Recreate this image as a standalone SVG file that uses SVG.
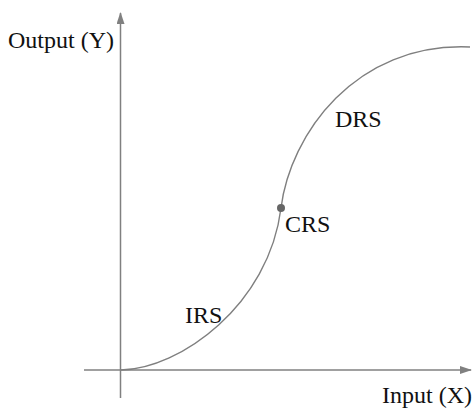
<svg xmlns="http://www.w3.org/2000/svg" width="473" height="409" viewBox="0 0 473 409">
  <style>
    .axis { stroke: #808080; stroke-width: 1.5; fill: none; }
    .curve { stroke: #7f7f7f; stroke-width: 1.4; fill: none; }
    .lbl { font-family: "Liberation Serif", "Times New Roman", serif; font-size: 24px; fill: #111; }
  </style>
  <defs>
    <marker id="arrow" viewBox="0 0 12 8" refX="11" refY="4" markerWidth="12" markerHeight="8" markerUnits="userSpaceOnUse" orient="auto">
      <path d="M0,0 L12,4 L0,8 Z" fill="#808080"/>
    </marker>
  </defs>
  <rect width="473" height="409" fill="#ffffff"/>
  <g id="axes">
    <line id="y-axis" class="axis" x1="120.5" y1="398" x2="120.5" y2="13" marker-end="url(#arrow)"/>
    <line id="x-axis" class="axis" x1="84" y1="370" x2="471" y2="370" marker-end="url(#arrow)"/>
  </g>
  <g id="curve">
    <path class="curve" d="M121,370 C180,369 269,305 281,208 C290,135 355,42 470,47"/>
    <circle id="crs-point" cx="281" cy="208" r="4" fill="#666666"/>
  </g>
  <g id="labels">
    <text class="lbl" x="8" y="47.5">Output (Y)</text>
    <text class="lbl" x="382" y="403">Input (X)</text>
    <text class="lbl" x="335" y="127">DRS</text>
    <text class="lbl" x="285" y="232">CRS</text>
    <text class="lbl" x="185" y="323">IRS</text>
  </g>
</svg>
